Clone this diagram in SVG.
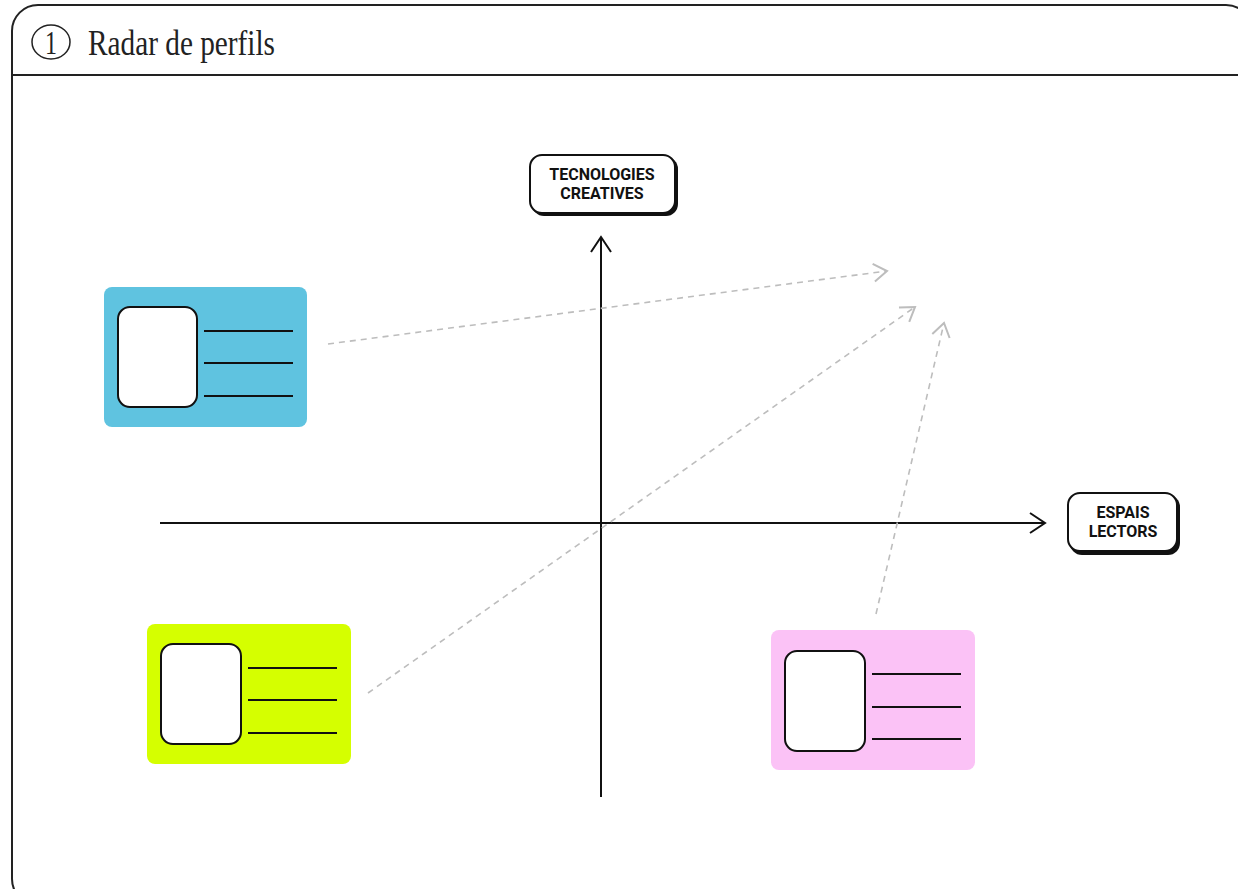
<svg xmlns="http://www.w3.org/2000/svg" width="1238" height="889" viewBox="0 0 1238 889">
<style>
.frame{fill:#fff;stroke:#222;stroke-width:2}
.tagshadow{fill:#111}
.tag{fill:#fff;stroke:#111;stroke-width:2}
.tagtxt{font-family:Roboto,"Liberation Sans",sans-serif;font-weight:700;font-size:16px;fill:#111;text-anchor:middle}
.axis{stroke:#111;stroke-width:2;fill:none}
.photo{fill:#fff;stroke:#111;stroke-width:2}
.line{stroke:#111;stroke-width:1.8}
.dash{stroke:#bdbdbd;stroke-width:1.6;stroke-dasharray:6 5;fill:none}
</style>
<defs>
<marker id="gray" markerUnits="userSpaceOnUse" markerWidth="20" markerHeight="20" viewBox="-1 -1 14 18" refX="12" refY="8" orient="auto">
<path d="M0,0 L12,8 L0,16" fill="none" stroke="#bdbdbd" stroke-width="1.8"/>
</marker>
</defs>
<rect width="1238" height="889" fill="#fff"/>
<g id="frame">
<rect class="frame" x="12" y="5" width="1240" height="900" rx="26"/>
<line x1="12" y1="75" x2="1238" y2="75" stroke="#222" stroke-width="2"/>
<ellipse cx="51" cy="42" rx="19" ry="17" fill="none" stroke="#222" stroke-width="1.5"/>
<text x="51" y="54" font-family="'Liberation Serif',serif" font-size="34" fill="#222" text-anchor="middle" textLength="12" lengthAdjust="spacingAndGlyphs">1</text>
<text x="88" y="55" font-family="'Liberation Serif',serif" font-size="36" fill="#222" textLength="187" lengthAdjust="spacingAndGlyphs">Radar de perfils</text>
</g>
<g id="axes">
<line class="axis" x1="601" y1="237" x2="601" y2="797"/>
<path class="axis" d="M591,252 L601,237 L611,252"/>
<line class="axis" x1="160" y1="523" x2="1045" y2="523"/>
<path class="axis" d="M1030,513 L1045,523 L1030,533"/>
</g>
<g id="tag-tecnologies">
<rect class="tagshadow" x="532" y="157" width="146" height="59" rx="12"/>
<rect class="tag" x="530" y="155" width="145" height="58" rx="12"/>
<text class="tagtxt" x="602" y="180">TECNOLOGIES</text>
<text class="tagtxt" x="602" y="199">CREATIVES</text>
</g>
<g id="tag-espais">
<rect class="tagshadow" x="1070" y="495" width="110" height="60" rx="12"/>
<rect class="tag" x="1068" y="493" width="109" height="58" rx="12"/>
<text class="tagtxt" x="1123" y="518">ESPAIS</text>
<text class="tagtxt" x="1123" y="537">LECTORS</text>
</g>
<g id="card-blue">
<rect x="104" y="287" width="203" height="140" rx="8" fill="#5fc3e0"/>
<rect class="photo" x="118" y="307" width="79" height="100" rx="12"/>
<line class="line" x1="204" y1="331" x2="293" y2="331"/>
<line class="line" x1="204" y1="363" x2="293" y2="363"/>
<line class="line" x1="204" y1="396" x2="293" y2="396"/>
</g>
<g id="card-green">
<rect x="147" y="624" width="204" height="140" rx="8" fill="#d5ff00"/>
<rect class="photo" x="161" y="644" width="80" height="100" rx="12"/>
<line class="line" x1="248" y1="668" x2="337" y2="668"/>
<line class="line" x1="248" y1="700" x2="337" y2="700"/>
<line class="line" x1="248" y1="733" x2="337" y2="733"/>
</g>
<g id="card-pink">
<rect x="771" y="630" width="204" height="140" rx="8" fill="#fbc2f6"/>
<rect class="photo" x="785" y="651" width="80" height="100" rx="12"/>
<line class="line" x1="872" y1="674" x2="961" y2="674"/>
<line class="line" x1="872" y1="707" x2="961" y2="707"/>
<line class="line" x1="872" y1="739" x2="961" y2="739"/>
</g>
<g id="connectors">
<line class="dash" x1="328" y1="344" x2="887" y2="271" marker-end="url(#gray)"/>
<line class="dash" x1="368" y1="693" x2="915" y2="307" marker-end="url(#gray)"/>
<line class="dash" x1="876" y1="614" x2="944" y2="323" marker-end="url(#gray)"/>
</g>
</svg>
